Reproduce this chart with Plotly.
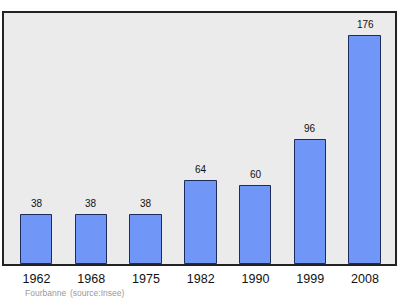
import plotly.graph_objects as go

# Population of Fourbanne by census year
years = ["1962", "1968", "1975", "1982", "1990", "1999", "2008"]
population = [38, 38, 38, 64, 60, 96, 176]

x_pos = list(range(len(years)))

fig = go.Figure()
fig.add_trace(go.Bar(
    x=x_pos,
    y=population,
    width=0.575,
    marker=dict(color="#7096f8", line=dict(color="#1f2b5a", width=1)),
    hoverinfo="skip",
))

# value labels above each bar
for xi, v in zip(x_pos, population):
    fig.add_annotation(
        x=xi, y=v, text=str(v), showarrow=False,
        yanchor="bottom", yshift=4,
        font=dict(family="Liberation Sans, Arial, sans-serif", size=10, color="#111111"),
    )

# footnote
foot_font = dict(family="Liberation Sans, Arial, sans-serif", size=8.5, color="#9a9a9a")
fig.add_annotation(
    xref="paper", yref="paper", x=0.049, y=-0.115, xanchor="left", yanchor="middle",
    text="Fourbanne", showarrow=False, font=foot_font,
)
fig.add_annotation(
    xref="paper", yref="paper", x=0.163, y=-0.115, xanchor="left", yanchor="middle",
    text="(source:Insee)", showarrow=False, font=foot_font,
)

fig.update_layout(
    width=400, height=299,
    margin=dict(l=4, r=5, t=13, b=35),
    paper_bgcolor="white",
    plot_bgcolor="#ebebeb",
    showlegend=False,
    bargap=0,
    xaxis=dict(
        range=[-0.594, 6.548],
        tickvals=x_pos, ticktext=years,
        showgrid=False, zeroline=False,
        showline=True, mirror=True, linecolor="#222222", linewidth=1.5,
        ticks="", ticklabelstandoff=2,
        tickfont=dict(family="Liberation Sans, Arial, sans-serif", size=12.5, color="#111111"),
    ),
    yaxis=dict(
        range=[0, 194],
        showgrid=False, zeroline=False, showticklabels=False,
        showline=True, mirror=True, linecolor="#222222", linewidth=1.5,
        ticks="",
    ),
)

fig.write_html("out.html")
